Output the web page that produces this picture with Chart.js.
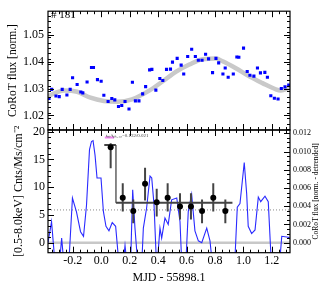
<!DOCTYPE html>
<html>
<head>
<meta charset="utf-8">
<script src="https://cdn.jsdelivr.net/npm/chart.js@4.4.1/dist/chart.umd.min.js"></script>
<style>
  html, body { margin: 0; padding: 0; background: #fff; }
  #wrap { position: relative; width: 327px; height: 287px; }
  #wrap canvas { position: absolute; left: 0; top: 0; }
</style>
</head>
<body>
<div id="wrap">
  <canvas id="topPanel" width="327" height="287"></canvas>
  <canvas id="bottomPanel" width="327" height="287"></canvas>
</div>
<script>
// shared x range (MJD - 55898.1)
const xMin = -0.375, xMax = 1.328;
const xTicks = [-0.2, 0.0, 0.2, 0.4, 0.6, 0.8, 1.0, 1.2];

// top panel: CoRoT light curve
const fluxTicks = [1.02, 1.03, 1.04, 1.05];
const lcTime = [-0.368, -0.349, -0.319, -0.296, -0.275, -0.242, -0.219, -0.202, -0.170, -0.144,
  -0.130, -0.100, -0.069, -0.055, -0.027, -0.001, 0.018, 0.048, 0.074, 0.095,
  0.121, 0.144, 0.167, 0.195, 0.219, 0.240, 0.265, 0.291, 0.312, 0.340,
  0.356, 0.384, 0.412, 0.433, 0.459, 0.487, 0.501, 0.534, 0.562, 0.580,
  0.608, 0.636, 0.662, 0.683, 0.709, 0.734, 0.755, 0.783, 0.807, 0.826,
  0.856, 0.872, 0.893, 0.929, 0.954, 0.968, 1.001, 1.027, 1.046, 1.074,
  1.099, 1.120, 1.151, 1.169, 1.193, 1.218, 1.244, 1.267, 1.293, 1.319];
const lcFlux = [1.0263, 1.0297, 1.0272, 1.0270, 1.0297, 1.0276, 1.0297, 1.0340, 1.0315, 1.0287,
  1.0284, 1.0324, 1.0378, 1.0378, 1.0333, 1.0327, 1.0275, 1.0252, 1.0263, 1.0258,
  1.0233, 1.0237, 1.0252, 1.0224, 1.0323, 1.0254, 1.0254, 1.0280, 1.0307, 1.0369,
  1.0371, 1.0294, 1.0337, 1.0330, 1.0371, 1.0372, 1.0398, 1.0412, 1.0387, 1.0354,
  1.0419, 1.0446, 1.0419, 1.0405, 1.0405, 1.0427, 1.0410, 1.0359, 1.0412, 1.0395,
  1.0354, 1.0376, 1.0342, 1.0354, 1.0417, 1.0416, 1.0450, 1.0363, 1.0349, 1.0346,
  1.0376, 1.0358, 1.0360, 1.0342, 1.0273, 1.0264, 1.0261, 1.0300, 1.0306, 1.0313];
const trendTime = [-0.375, -0.263, -0.170, -0.076, 0.018, 0.111, 0.216, 0.340, 0.433, 0.527,
  0.620, 0.713, 0.807, 0.854, 0.947, 1.041, 1.134, 1.228, 1.263, 1.328];
const trendFlux = [1.0272, 1.0293, 1.0288, 1.0266, 1.0254, 1.0251, 1.0260, 1.0293, 1.0327, 1.0363,
  1.0389, 1.0409, 1.0411, 1.0401, 1.0375, 1.0345, 1.0320, 1.0297, 1.0293, 1.0302];

// bottom panel: X-ray rate (left axis) and detrended CoRoT flux (right axis)
const rateTicks = [0, 5, 10, 15, 20];
const detTicks = [0.000, 0.002, 0.004, 0.006, 0.008, 0.010, 0.012];
const binTime = [0.066, 0.151, 0.225, 0.308, 0.390, 0.467, 0.554, 0.631, 0.709, 0.788, 0.873];
const binRate = [17.2, 8.1, 5.7, 10.6, 7.3, 8.1, 6.5, 6.5, 5.7, 8.1, 5.7];
const binLo = [13.4, 5.6, 3.5, 7.6, 4.7, 5.6, 4.2, 4.2, 3.5, 5.6, 3.5];
const binHi = [17.9, 10.7, 7.8, 13.5, 9.7, 10.7, 8.9, 8.9, 7.8, 10.7, 7.8];
const stepTime = [0.021, 0.103, 0.103, 0.923];
const stepRate = [17.6, 17.6, 7.2, 7.2];
const quiescentRate = 5.9;
const peakTime = [0.025, 0.090];
const peakRate = 18.95;
const detTime = [-0.375, -0.350, -0.322, -0.298, -0.279, -0.259, -0.231, -0.203, -0.175, -0.146,
  -0.125, -0.104, -0.083, -0.069, -0.058, -0.044, -0.030, -0.002, 0.015, 0.033,
  0.054, 0.077, 0.101, 0.128, 0.150, 0.167, 0.185, 0.205, 0.221, 0.237,
  0.260, 0.283, 0.296, 0.319, 0.343, 0.355, 0.371, 0.390, 0.413, 0.425,
  0.448, 0.471, 0.495, 0.531, 0.554, 0.568, 0.593, 0.612, 0.636, 0.659,
  0.683, 0.707, 0.742, 0.765, 0.786, 0.937, 0.957, 0.976, 1.006, 1.023,
  1.034, 1.058, 1.082, 1.105, 1.122, 1.152, 1.175, 1.199, 1.251, 1.270,
  1.316, 1.333];
const detFlux = [0.0000, 0.0023, -0.0030, -0.0030, 0.0005, -0.0030, -0.0030, 0.0049, 0.0034, 0.0012,
  0.0007, 0.0041, 0.0102, 0.0111, 0.0112, 0.0096, 0.0071, 0.0071, 0.0034, 0.0018,
  0.0013, 0.0022, 0.0018, -0.0030, -0.0030, -0.0003, -0.0030, -0.0030, 0.0058, 0.0016,
  -0.0030, -0.0030, 0.0016, 0.0038, 0.0073, 0.0071, 0.0042, -0.0030, 0.0016, 0.0005,
  0.0027, 0.0020, 0.0047, 0.0049, 0.0023, -0.0030, -0.0030, 0.0034, 0.0053, 0.0013,
  0.0002, 0.0000, 0.0016, 0.0002, -0.0030, -0.0030, 0.0039, 0.0043, 0.0088, 0.0054,
  0.0018, 0.0010, 0.0014, 0.0050, 0.0045, 0.0051, 0.0045, -0.0030, -0.0030, 0.0007,
  0.0006, 0.0004];

const serif = '"Liberation Serif", "Times New Roman", serif';

function pts(xs, ys) {
  return xs.map((x, i) => ({ x: x, y: ys[i] }));
}

function range(a, b, step) {
  const out = [];
  for (let v = a; v <= b + step / 1000; v += step) out.push(+v.toFixed(6));
  return out;
}

// IDL-style frame: box plus inward ticks on every side, and free text
const frameTicks = {
  id: 'frameTicks',
  afterDatasetsDraw(chart, args, o) {
    const { ctx, chartArea: a, scales } = chart;
    ctx.save();
    ctx.strokeStyle = '#000';
    ctx.lineWidth = 1;
    ctx.beginPath();
    const xs = scales.x;
    o.xMinor.forEach(v => {
      const p = Math.round(xs.getPixelForValue(v)) + 0.5;
      ctx.moveTo(p, a.bottom); ctx.lineTo(p, a.bottom - 3);
      ctx.moveTo(p, a.top); ctx.lineTo(p, a.top + 3);
    });
    o.xMajor.forEach(v => {
      const p = Math.round(xs.getPixelForValue(v)) + 0.5;
      ctx.moveTo(p, a.bottom); ctx.lineTo(p, a.bottom - 6);
      ctx.moveTo(p, a.top); ctx.lineTo(p, a.top + 6);
    });
    const ly = scales.y, ry = scales[o.rightScale];
    o.leftMinor.forEach(v => {
      const p = Math.round(ly.getPixelForValue(v)) + 0.5;
      ctx.moveTo(a.left, p); ctx.lineTo(a.left + 3, p);
    });
    o.leftMajor.forEach(v => {
      const p = Math.round(ly.getPixelForValue(v)) + 0.5;
      ctx.moveTo(a.left, p); ctx.lineTo(a.left + 6, p);
    });
    o.rightMinor.forEach(v => {
      const p = Math.round(ry.getPixelForValue(v)) + 0.5;
      ctx.moveTo(a.right, p); ctx.lineTo(a.right - 3, p);
    });
    o.rightMajor.forEach(v => {
      const p = Math.round(ry.getPixelForValue(v)) + 0.5;
      ctx.moveTo(a.right, p); ctx.lineTo(a.right - 6, p);
    });
    ctx.stroke();
    ctx.lineWidth = 1.2;
    ctx.strokeRect(a.left, a.top, a.right - a.left, a.bottom - a.top);

    (o.texts || []).forEach(t => {
      ctx.save();
      ctx.fillStyle = t.color || '#000';
      ctx.font = t.font;
      ctx.textAlign = t.align || 'left';
      ctx.textBaseline = 'alphabetic';
      ctx.translate(t.x, t.y);
      if (t.rot) ctx.rotate(t.rot);
      ctx.fillText(t.text, 0, 0);
      ctx.restore();
    });
    ctx.restore();
  }
};

// ---- top panel ----
new Chart(document.getElementById('topPanel'), {
  type: 'scatter',
  data: {
    datasets: [
      {
        data: pts(lcTime, lcFlux),
        pointStyle: 'rect',
        pointRadius: 2.2,
        pointBorderWidth: 0,
        backgroundColor: '#0000ff',
        borderColor: '#0000ff',
        order: 1
      },
      {
        data: pts(trendTime, trendFlux),
        showLine: true,
        pointRadius: 0,
        borderColor: '#c9c9c9',
        borderWidth: 4.5,
        cubicInterpolationMode: 'monotone',
        order: 2
      }
    ]
  },
  options: {
    responsive: false,
    animation: false,
    events: [],
    layout: { padding: { left: 0, right: 37, top: 8, bottom: 157 } },
    plugins: {
      legend: { display: false },
      tooltip: { enabled: false },
      frameTicks: {
        xMajor: xTicks, xMinor: range(-0.35, 1.3, 0.05),
        leftMajor: fluxTicks, leftMinor: range(1.015, 1.058, 0.002),
        rightScale: 'y', rightMajor: fluxTicks, rightMinor: range(1.015, 1.058, 0.002),
        texts: [{ text: '# 181', x: 51, y: 18, font: '11px ' + serif }]
      }
    },
    scales: {
      x: { type: 'linear', display: false, min: xMin, max: xMax },
      y: {
        min: 1.0146, max: 1.0587,
        afterFit(s) { s.width = 48; },
        afterBuildTicks(s) { s.ticks = fluxTicks.map(v => ({ value: v })); },
        grid: { display: false, drawTicks: false },
        border: { display: false },
        ticks: { color: '#000', padding: 4, font: { family: serif, size: 12 }, callback: v => v.toFixed(2) },
        title: { display: true, text: 'CoRoT flux [norm.]', color: '#000', font: { family: serif, size: 11.5 }, padding: { top: 6, bottom: 0 } }
      }
    }
  },
  plugins: [frameTicks]
});

// ---- bottom panel ----
const errPts = [];
binTime.forEach((t, i) => {
  errPts.push({ x: t, y: binLo[i] }, { x: t, y: binHi[i] }, { x: t, y: null });
});

new Chart(document.getElementById('bottomPanel'), {
  type: 'scatter',
  data: {
    datasets: [
      { // zero level
        data: [{ x: xMin, y: 0 }, { x: xMax, y: 0 }],
        showLine: true, pointRadius: 0, borderColor: '#c8c8c8', borderWidth: 2.5, order: 10
      },
      { // quiescent level
        data: [{ x: xMin, y: quiescentRate }, { x: xMax, y: quiescentRate }],
        showLine: true, pointRadius: 0, borderColor: '#888', borderWidth: 1, borderDash: [1, 2], order: 9
      },
      { // detrended CoRoT flux
        yAxisID: 'yr',
        data: pts(detTime, detFlux),
        showLine: true, pointRadius: 0, borderColor: '#2a2aff', borderWidth: 1.1, order: 8
      },
      { // step vertical connector
        data: pts(stepTime.slice(1, 3), stepRate.slice(1, 3)),
        showLine: true, pointRadius: 0, borderColor: '#777', borderWidth: 1, order: 6
      },
      { // step levels
        data: [{ x: stepTime[0], y: stepRate[0] }, { x: stepTime[1], y: stepRate[1] }, { x: stepTime[1], y: null },
               { x: stepTime[2], y: stepRate[2] }, { x: stepTime[3], y: stepRate[3] }],
        showLine: true, spanGaps: false, pointRadius: 0, borderColor: '#444', borderWidth: 2, order: 5
      },
      { // error bars
        data: errPts,
        showLine: true, spanGaps: false, pointRadius: 0, borderColor: '#444', borderWidth: 2, order: 3
      },
      { // peak marker
        data: [{ x: peakTime[0], y: peakRate }, { x: peakTime[1], y: peakRate }],
        showLine: true, pointRadius: 0, borderColor: '#ee82ee', borderWidth: 2, order: 2
      },
      { // binned rate
        data: pts(binTime, binRate),
        pointRadius: 3, pointBorderWidth: 0, backgroundColor: '#000', order: 1
      }
    ]
  },
  options: {
    responsive: false,
    animation: false,
    events: [],
    layout: { padding: { left: 0, right: 0, top: 130, bottom: 0 } },
    plugins: {
      legend: { display: false },
      tooltip: { enabled: false },
      frameTicks: {
        xMajor: xTicks, xMinor: range(-0.35, 1.3, 0.05),
        leftMajor: rateTicks, leftMinor: range(-1, 20, 1),
        rightScale: 'yr', rightMajor: detTicks, rightMinor: range(-0.001, 0.012, 0.0005),
        texts: [
          { text: 't\u2098/t\u209a\u2096,\u2081\u2080=0.132/0.021', x: 106, y: 137, font: '5px ' + serif, color: '#444' },
          { text: 'CoRoT flux [norm. - detrended]', x: 318, y: 191.4, font: '7.5px ' + serif, align: 'center', rot: -Math.PI / 2 }
        ]
      }
    },
    scales: {
      x: {
        type: 'linear', min: xMin, max: xMax,
        afterFit(s) { s.height = 34.3; },
        afterBuildTicks(s) { s.ticks = xTicks.map(v => ({ value: v })); },
        grid: { display: false, drawTicks: false },
        border: { display: false },
        ticks: { color: '#000', padding: 1, maxRotation: 0, font: { family: serif, size: 12 }, callback: v => v.toFixed(1) },
        title: { display: true, text: 'MJD - 55898.1', color: '#000', font: { family: serif, size: 12 }, padding: { top: 0, bottom: 2 } }
      },
      y: {
        position: 'left', min: -1.8, max: 20.3,
        afterFit(s) { s.width = 48; },
        afterBuildTicks(s) { s.ticks = rateTicks.map(v => ({ value: v })); },
        grid: { display: false, drawTicks: false },
        border: { display: false },
        ticks: { color: '#000', padding: 3, font: { family: serif, size: 12 }, callback: v => String(v) },
        title: { display: true, text: '[0.5-8.0keV] Cnts/Ms/cm\u207b\u00b2', color: '#000', font: { family: serif, size: 12 }, padding: { top: 12, bottom: 0 } }
      },
      yr: {
        position: 'right', min: -0.0011, max: 0.01236,
        afterFit(s) { s.width = 37; },
        afterBuildTicks(s) { s.ticks = detTicks.map(v => ({ value: v })); },
        grid: { display: false, drawTicks: false },
        border: { display: false },
        ticks: { color: '#000', padding: 3, font: { family: serif, size: 8 }, callback: v => v.toFixed(3) }
      }
    }
  },
  plugins: [frameTicks]
});
</script>
</body>
</html>
